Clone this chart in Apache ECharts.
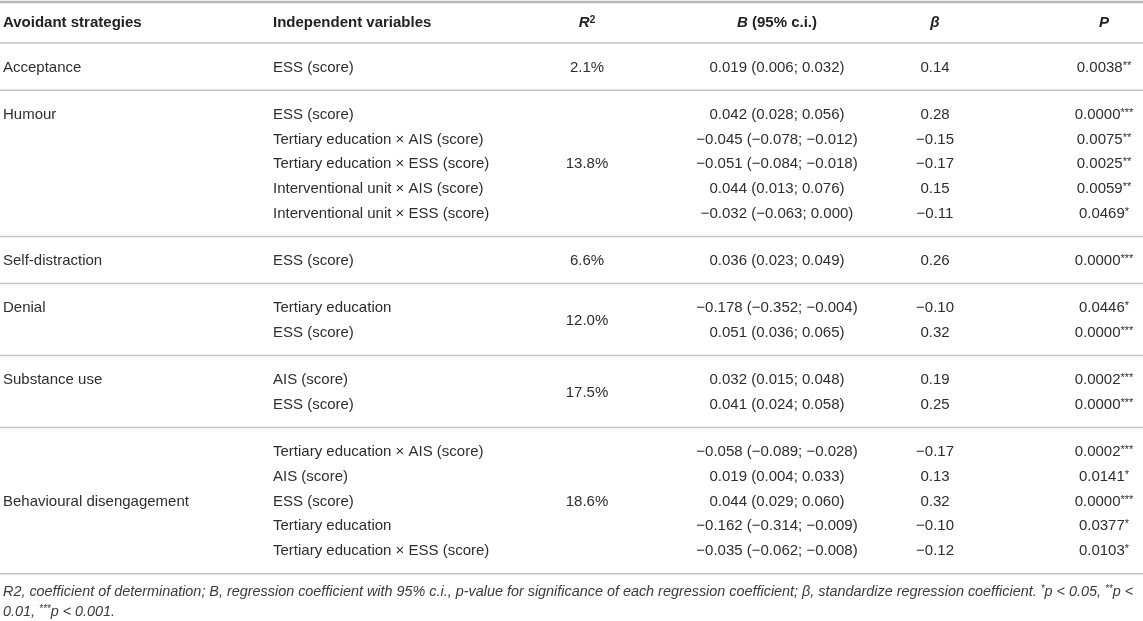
<!DOCTYPE html>
<html><head><meta charset="utf-8">
<script src="https://cdn.jsdelivr.net/npm/echarts@6/dist/echarts.min.js"></script>
<style>html,body{margin:0;padding:0;background:#fff}#c{width:1143px;height:621px}</style>
</head><body><div id="c"></div>
<script>
// ---------- DATA ----------
const headers = ['Avoidant strategies', 'Independent variables', '{ri|R}{sup|2}', '{bi|B} (95% c.i.)', '{bi|β}', '{bi|P}'];
const strategies = ['Acceptance', 'Humour', 'Self-distraction', 'Denial', 'Substance use', 'Behavioural disengagement'];
const strategyLabelRow = [0, 0, 0, 0, 0, 2];
const rSquared = ['2.1%', '13.8%', '6.6%', '12.0%', '17.5%', '18.6%'];
const variables = [
  ['ESS (score)'],
  ['ESS (score)', 'Tertiary education × AIS (score)', 'Tertiary education × ESS (score)', 'Interventional unit × AIS (score)', 'Interventional unit × ESS (score)'],
  ['ESS (score)'],
  ['Tertiary education', 'ESS (score)'],
  ['AIS (score)', 'ESS (score)'],
  ['Tertiary education × AIS (score)', 'AIS (score)', 'ESS (score)', 'Tertiary education', 'Tertiary education × ESS (score)']
];
const coefB = [[0.019], [0.042, -0.045, -0.051, 0.044, -0.032], [0.036], [-0.178, 0.051], [0.032, 0.041], [-0.058, 0.019, 0.044, -0.162, -0.035]];
const ciLow = [[0.006], [0.028, -0.078, -0.084, 0.013, -0.063], [0.023], [-0.352, 0.036], [0.015, 0.024], [-0.089, 0.004, 0.029, -0.314, -0.062]];
const ciHigh = [[0.032], [0.056, -0.012, -0.018, 0.076, 0.000], [0.049], [-0.004, 0.065], [0.048, 0.058], [-0.028, 0.033, 0.060, -0.009, -0.008]];
const beta = [[0.14], [0.28, -0.15, -0.17, 0.15, -0.11], [0.26], [-0.10, 0.32], [0.19, 0.25], [-0.17, 0.13, 0.32, -0.10, -0.12]];
const pValues = [[0.0038], [0.0000, 0.0075, 0.0025, 0.0059, 0.0469], [0.0000], [0.0446, 0.0000], [0.0002, 0.0000], [0.0002, 0.0141, 0.0000, 0.0377, 0.0103]];
const footnoteLines = [
  'R2, coefficient of determination; B, regression coefficient with 95% c.i., p-value for significance of each regression coefficient; β, standardize regression coefficient. {s|*}p < 0.05, {s|**}p <',
  '0.01, {s|***}p < 0.001.'
];

// ---------- LAYOUT ----------
const W = 1143, H = 621;
const COLX = [3, 273, 587, 777, 935, 1104];
const COLALIGN = ['left', 'left', 'center', 'center', 'center', 'center'];
const HEADER_Y = 22.5, TOP_LINE = 2, HEADER_LINE = 43, PAD = 23.6, ROW = 24.75, TEXT_DY = 1;
const FOOT_Y = [591.5, 611.5];

const fmt = (v, d) => v.toFixed(d).replace('-', '\u2212');
const stars = p => p < 0.001 ? '***' : p < 0.01 ? '**' : p < 0.05 ? '*' : '';

const cells = [];   // {x, y, text, align, kind}
const seps = [];    // {y, kind}
seps.push({ y: TOP_LINE, kind: 'top' });
headers.forEach((h, i) => cells.push({ x: COLX[i], y: HEADER_Y, text: h, align: COLALIGN[i], kind: 'head' }));
seps.push({ y: HEADER_LINE, kind: 'mid' });
let groupTop = HEADER_LINE;
strategies.forEach((s, g) => {
  const n = variables[g].length;
  const rowY = i => groupTop + PAD + i * ROW + TEXT_DY;
  cells.push({ x: COLX[0], y: rowY(strategyLabelRow[g]), text: s, align: 'left', kind: 'body' });
  cells.push({ x: COLX[2], y: (rowY(0) + rowY(n - 1)) / 2, text: rSquared[g], align: 'center', kind: 'body' });
  for (let i = 0; i < n; i++) {
    const y = rowY(i);
    cells.push({ x: COLX[1], y, text: variables[g][i], align: 'left', kind: 'body' });
    cells.push({ x: COLX[3], y, text: fmt(coefB[g][i], 3) + ' (' + fmt(ciLow[g][i], 3) + '; ' + fmt(ciHigh[g][i], 3) + ')', align: 'center', kind: 'body' });
    cells.push({ x: COLX[4], y, text: fmt(beta[g][i], 2), align: 'center', kind: 'body' });
    cells.push({ x: COLX[5], y, text: fmt(pValues[g][i], 4) + '{s|' + stars(pValues[g][i]) + '}', align: 'center', kind: 'body' });
  }
  groupTop = groupTop + 2 * PAD + (n - 1) * ROW;
  seps.push({ y: groupTop, kind: g === strategies.length - 1 ? 'bottom' : 'mid' });
});
footnoteLines.forEach((t, i) => cells.push({ x: COLX[0], y: FOOT_Y[i], text: t, align: 'left', kind: 'foot' }));

const FONT = '"Liberation Sans", Arial, Helvetica, sans-serif';
const styles = {
  head: { fontSize: 15, fontWeight: 'bold', fill: '#222' },
  body: { fontSize: 15, fontWeight: 'normal', fill: '#2e2e2e' },
  foot: { fontSize: 14.4, fontWeight: 'normal', fontStyle: 'italic', fill: '#3a3a3a' }
};
const rich = {
  s: { fontSize: 11, verticalAlign: 'top', lineHeight: 9, fontFamily: FONT, fill: '#2e2e2e' },
  ri: { fontSize: 15, fontWeight: 'bold', fontStyle: 'italic', fontFamily: FONT, fill: '#222' },
  bi: { fontSize: 15, fontWeight: 'bold', fontStyle: 'italic', fontFamily: FONT, fill: '#222' },
  sup: { fontSize: 10, fontWeight: 'bold', verticalAlign: 'top', lineHeight: 10, fontFamily: FONT, fill: '#222' }
};

const chart = echarts.init(document.getElementById('c'), null, { renderer: 'canvas' });
chart.setOption({
  animation: false,
  grid: { left: 0, right: 0, top: 0, bottom: 0 },
  xAxis: { type: 'value', min: 0, max: W, show: false },
  yAxis: { type: 'value', min: 0, max: H, inverse: true, show: false },
  series: [
    {
      type: 'custom', coordinateSystem: 'cartesian2d', silent: true,
      data: seps.map(s => [0, s.y]),
      encode: { x: 0, y: 1 },
      renderItem: (params, api) => {
        const s = seps[params.dataIndex];
        const a = api.coord([0, api.value(1)]);
        const b = api.coord([W, api.value(1)]);
        return { type: 'line', shape: { x1: a[0], y1: a[1], x2: b[0], y2: b[1] },
          style: { stroke: s.kind === 'top' ? '#b8b8b8' : '#c4c4c4', lineWidth: s.kind === 'top' ? 2.5 : 1.5 } };
      }
    },
    {
      type: 'custom', coordinateSystem: 'cartesian2d', silent: true,
      data: cells.map(c => [c.x, c.y]),
      encode: { x: 0, y: 1 },
      renderItem: (params, api) => {
        const c = cells[params.dataIndex];
        const p = api.coord([api.value(0), api.value(1)]);
        const st = styles[c.kind];
        const r = JSON.parse(JSON.stringify(rich));
        if (c.kind === 'foot') { r.s.fill = st.fill; r.s.fontStyle = 'italic'; r.s.fontSize = 10; }
        return { type: 'text', x: p[0], y: p[1],
          style: Object.assign({ text: c.text, align: c.align, verticalAlign: 'middle', fontFamily: FONT, rich: r }, st) };
      }
    }
  ]
});
</script></body></html>
